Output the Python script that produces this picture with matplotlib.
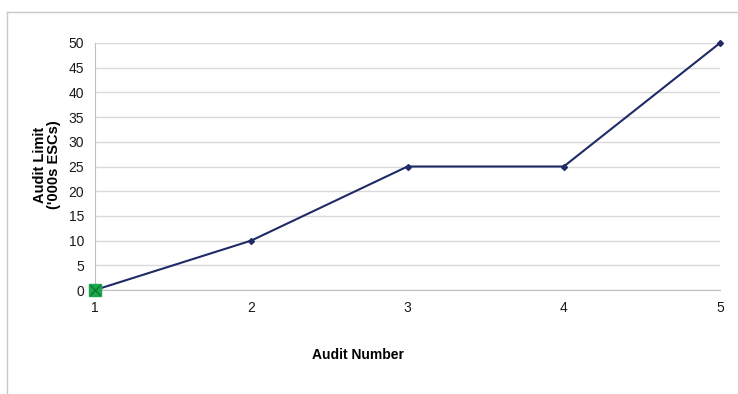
import matplotlib
matplotlib.use("Agg")
import matplotlib.pyplot as plt
from matplotlib.lines import Line2D

audit_number = [1, 2, 3, 4, 5]
audit_limit = [0, 10, 25, 25, 50]
y_ticks = [0, 5, 10, 15, 20, 25, 30, 35, 40, 45, 50]

plt.rcParams['font.family'] = ['Liberation Sans', 'DejaVu Sans']

fig = plt.figure(figsize=(7.38, 3.94), dpi=100)
ax = fig.add_axes([95 / 738, 1 - 290 / 394, 625 / 738, 247 / 394])

# outer chart frame (top and left edges)
fig.add_artist(Line2D([7 / 738, 1.0], [1 - 12 / 394, 1 - 12 / 394],
                      transform=fig.transFigure, color='#c8c8c8', lw=1))
fig.add_artist(Line2D([7 / 738, 7 / 738], [0, 1 - 12 / 394],
                      transform=fig.transFigure, color='#c8c8c8', lw=1))

ax.plot(audit_number, audit_limit, color='#1f2a66', lw=1.5,
        marker='D', ms=3, mfc='#1f2a66', mec='#1f2a66', zorder=3, clip_on=False)
ax.plot(audit_number[0], audit_limit[0], marker='s', ms=9, color='#1aa64a',
        mec='#1aa64a', zorder=4, clip_on=False)
ax.plot(audit_number[0], audit_limit[0], marker='x', ms=7, color='#0f6b2c',
        mew=0.8, zorder=5, clip_on=False)

ax.set_xlim(1, 5)
ax.set_ylim(0, 50)
ax.set_xticks(audit_number)
ax.set_yticks(y_ticks)
ax.grid(axis='y', color='#d9d9d9', lw=1)
ax.set_axisbelow(True)
for s in ['top', 'right']:
    ax.spines[s].set_visible(False)
ax.spines['left'].set_color('#bfbfbf')
ax.spines['bottom'].set_color('#bfbfbf')
ax.tick_params(length=0, labelsize=10, labelcolor='#1a1a1a')
ax.tick_params(axis='x', pad=8)
ax.tick_params(axis='y', pad=8)

ax.set_xlabel('Audit Number', fontsize=10, fontweight='bold')
ax.xaxis.set_label_coords((358 - 95) / 625, -(355 - 290) / 247)
ax.xaxis.label.set_va('center')
ax.set_ylabel("Audit Limit\n('000s ESCs)", fontsize=10.5, fontweight='bold',
              linespacing=1.0)
ax.yaxis.set_label_coords(-(95 - 47) / 625, (290 - 165) / 247)
ax.yaxis.label.set_va('center')

fig.savefig('out.png', dpi=100)
